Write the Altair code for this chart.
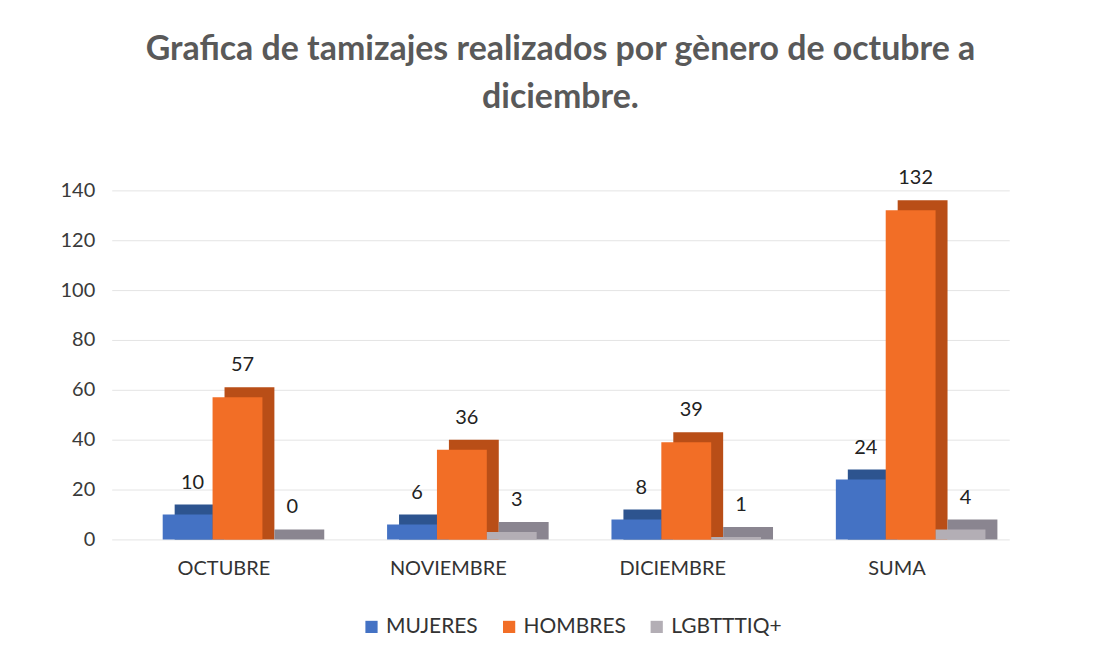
import altair as alt
import pandas as pd

categories = ["OCTUBRE", "NOVIEMBRE", "DICIEMBRE", "SUMA"]
series = ["MUJERES", "HOMBRES", "LGBTTTIQ+"]
mujeres = [10, 6, 8, 24]
hombres = [57, 36, 39, 132]
lgbt = [0, 3, 1, 4]
y_ticks = [0, 20, 40, 60, 80, 100, 120, 140]
title_lines = ["Grafica de tamizajes realizados por gènero de octubre a", "diciembre."]

rows = []
for i, c in enumerate(categories):
    for s, vals in zip(series, [mujeres, hombres, lgbt]):
        rows.append({"mes": c, "genero": s, "valor": vals[i]})
df = pd.DataFrame(rows)

front_colors = ["#4472C4", "#F26E26", "#B3AEB5"]
side_colors = ["#2D548F", "#B94E17", "#8A8590"]

FONT = "Lato"

x_enc = alt.X("mes:N", sort=categories, title=None,
              scale=alt.Scale(paddingInner=0.33, paddingOuter=0.165),
              axis=alt.Axis(labelAngle=0, domain=False, ticks=False, grid=False, labelPadding=19,
                            labelFontSize=20, labelColor="#333333", labelFont=FONT))
y_enc = alt.Y("valor:Q", stack=None, title=None,
              scale=alt.Scale(domain=[0, 140], nice=False),
              axis=alt.Axis(values=y_ticks, domain=False, ticks=False, labelPadding=17,
                            labelFontSize=20, labelColor="#3A3A3A", labelFont=FONT,
                            grid=True, gridColor="#E4E4E4", gridWidth=1))

base = alt.Chart(df)

side = base.mark_bar(yOffset=-10, y2Offset=0).encode(
    x=x_enc,
    xOffset=alt.XOffset("genero:N", sort=series,
                        scale=alt.Scale(range=[26, 176], paddingInner=0, paddingOuter=0)),
    y=y_enc,
    color=alt.Color("genero:N", sort=series, scale=alt.Scale(domain=series, range=side_colors),
                    legend=None),
)

front = base.mark_bar().encode(
    x=x_enc,
    xOffset=alt.XOffset("genero:N", sort=series,
                        scale=alt.Scale(range=[14, 164], paddingInner=0, paddingOuter=0)),
    y=y_enc,
    color=alt.Color("genero:N", sort=series, title=None,
                    scale=alt.Scale(domain=series, range=front_colors),
                    legend=alt.Legend(orient="none", direction="horizontal", legendX=250, legendY=427,
                                      symbolType="square", symbolSize=150, labelFontSize=21,
                                      labelColor="#333333", labelFont=FONT, columnPadding=20,
                                      labelOffset=4, symbolStrokeWidth=0)),
)

labels = base.mark_text(dy=-32, dx=5, fontSize=20, color="#222222", font=FONT).encode(
    x=alt.X("mes:N", sort=categories),
    xOffset=alt.XOffset("genero:N", sort=series,
                        scale=alt.Scale(type="point", range=[39, 139], padding=0)),
    y=alt.Y("valor:Q"), text=alt.Text("valor:Q"),
)

chart = alt.layer(side, front, labels).resolve_scale(
    color="independent", xOffset="independent"
).properties(
    width=900, height=350,
    title=alt.Title(title_lines, fontSize=34, font=FONT, fontWeight="bold", color="#595959",
                    anchor="middle", offset=54, lineHeight=48),
    autosize=alt.AutoSizeParams(type="none"),
    padding={"left": 104, "top": 182, "right": 90, "bottom": 105},
).configure(background="white").configure_view(stroke=None)

chart.save("out.html", embed_options={"renderer": "svg", "actions": False})
